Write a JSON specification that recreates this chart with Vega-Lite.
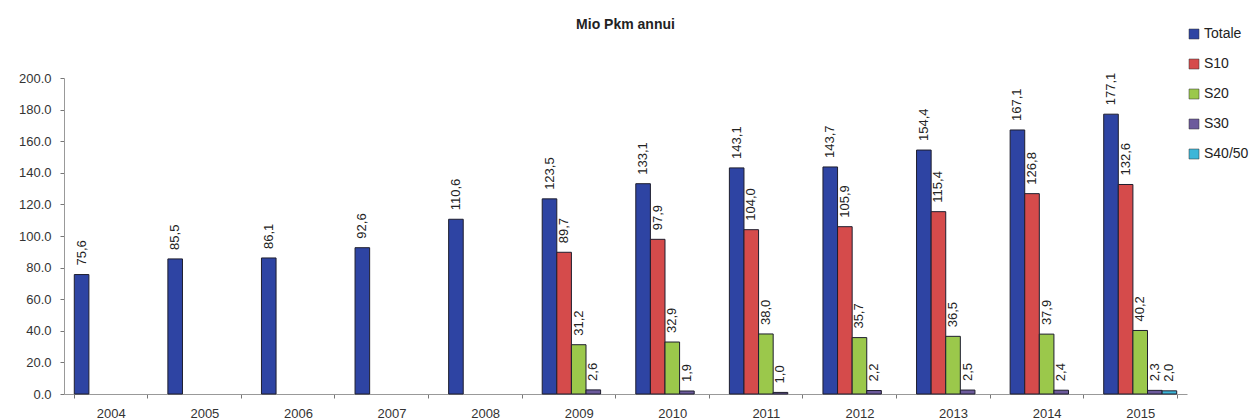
{
  "$schema": "https://vega.github.io/schema/vega-lite/v6.json",
  "autosize": "none",
  "width": 1123,
  "height": 316,
  "padding": {"left": 64, "top": 78, "right": 73, "bottom": 26},
  "background": "white",
  "title": {"text": "Mio Pkm annui", "fontSize": 14, "fontWeight": "bold", "font": "Liberation Sans", "anchor": "middle", "baseline": "bottom", "offset": -19, "color": "#222"},
  "config": {
    "locale": {"number": {"decimal": ",", "thousands": ".", "grouping": [3], "currency": ["", " €"]}},
    "view": {"stroke": null},
    "font": "Liberation Sans"
  },
  "data": {
    "values": [
      {"year": "2004", "series": "Totale", "value": 75.6},
      {"year": "2005", "series": "Totale", "value": 85.5},
      {"year": "2006", "series": "Totale", "value": 86.1},
      {"year": "2007", "series": "Totale", "value": 92.6},
      {"year": "2008", "series": "Totale", "value": 110.6},
      {"year": "2009", "series": "Totale", "value": 123.5},
      {"year": "2009", "series": "S10", "value": 89.7},
      {"year": "2009", "series": "S20", "value": 31.2},
      {"year": "2009", "series": "S30", "value": 2.6},
      {"year": "2010", "series": "Totale", "value": 133.1},
      {"year": "2010", "series": "S10", "value": 97.9},
      {"year": "2010", "series": "S20", "value": 32.9},
      {"year": "2010", "series": "S30", "value": 1.9},
      {"year": "2011", "series": "Totale", "value": 143.1},
      {"year": "2011", "series": "S10", "value": 104.0},
      {"year": "2011", "series": "S20", "value": 38.0},
      {"year": "2011", "series": "S30", "value": 1.0},
      {"year": "2012", "series": "Totale", "value": 143.7},
      {"year": "2012", "series": "S10", "value": 105.9},
      {"year": "2012", "series": "S20", "value": 35.7},
      {"year": "2012", "series": "S30", "value": 2.2},
      {"year": "2013", "series": "Totale", "value": 154.4},
      {"year": "2013", "series": "S10", "value": 115.4},
      {"year": "2013", "series": "S20", "value": 36.5},
      {"year": "2013", "series": "S30", "value": 2.5},
      {"year": "2014", "series": "Totale", "value": 167.1},
      {"year": "2014", "series": "S10", "value": 126.8},
      {"year": "2014", "series": "S20", "value": 37.9},
      {"year": "2014", "series": "S30", "value": 2.4},
      {"year": "2015", "series": "Totale", "value": 177.1},
      {"year": "2015", "series": "S10", "value": 132.6},
      {"year": "2015", "series": "S20", "value": 40.2},
      {"year": "2015", "series": "S30", "value": 2.3},
      {"year": "2015", "series": "S40/50", "value": 2.0}
    ]
  },
  "encoding": {
    "x": {
      "field": "year", "type": "nominal", "title": null,
      "scale": {"paddingInner": 0.22, "paddingOuter": 0.11},
      "axis": {"labelAngle": 0, "labelFontSize": 13, "labelColor": "#333", "domainColor": "#999", "tickColor": "#777", "tickBand": "extent", "tickSize": 4, "labelPadding": 9}
    },
    "xOffset": {"field": "series", "type": "nominal", "scale": {"domain": ["Totale", "S10", "S20", "S30", "S40/50"], "paddingInner": 0, "paddingOuter": 0}},
    "y": {
      "field": "value", "type": "quantitative", "title": null,
      "scale": {"domain": [0, 200], "nice": false},
      "axis": {"values": [0, 20, 40, 60, 80, 100, 120, 140, 160, 180, 200], "format": ".1f", "labelExpr": "replace(datum.label, ',', '.')", "grid": false, "labelFontSize": 13, "labelColor": "#333", "domainColor": "#999", "tickColor": "#777", "tickSize": 4, "labelPadding": 9}
    }
  },
  "layer": [
    {
      "mark": {"type": "bar", "stroke": "#1e1e2e", "strokeWidth": 1},
      "encoding": {
        "color": {
          "field": "series", "type": "nominal",
          "scale": {"domain": ["Totale", "S10", "S20", "S30", "S40/50"], "range": ["#2e44a3", "#d54b4b", "#9bc84b", "#6c5a9c", "#3db6d8"]},
          "legend": {"title": null, "orient": "none", "legendX": 1123, "legendY": -51, "symbolType": "square", "symbolSize": 100, "symbolStrokeColor": "#333", "symbolStrokeWidth": 0.5, "labelFontSize": 14, "labelColor": "#222", "rowPadding": 16, "labelOffset": 3}
        }
      }
    },
    {
      "mark": {"type": "text", "angle": 270, "align": "left", "baseline": "middle", "dx": 9, "fontSize": 13, "color": "#222"},
      "encoding": {
        "text": {"field": "value", "type": "quantitative", "format": ".1f"}
      }
    }
  ]
}
